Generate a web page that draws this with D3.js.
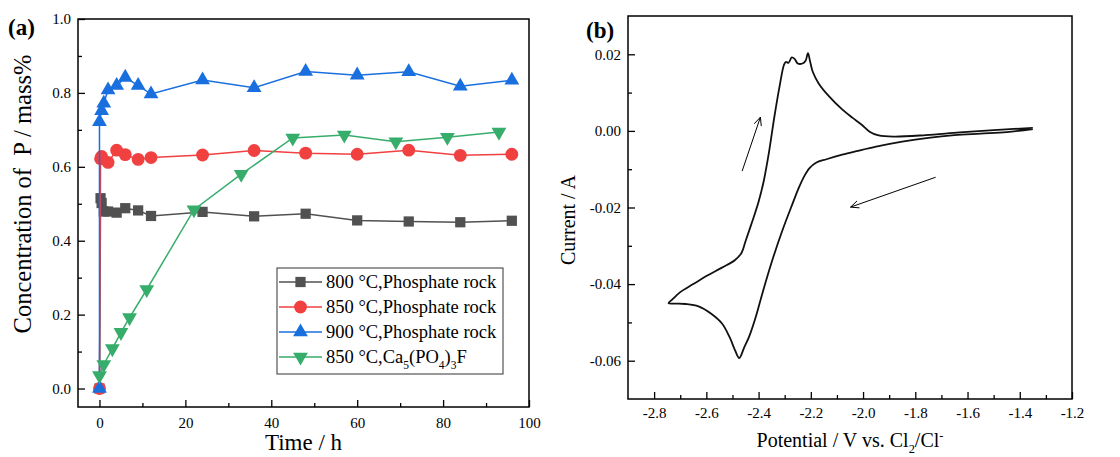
<!DOCTYPE html>
<html>
<head>
<meta charset="utf-8">
<script src="https://cdn.jsdelivr.net/npm/d3@7"></script>
<style>
  body { margin: 0; background: #fff; }
  svg { display: block; font-family: 'Liberation Serif', 'Times New Roman', serif; }
  svg text { font-family: 'Liberation Serif', 'Times New Roman', serif; }
</style>
</head>
<body>
<svg id="fig" width="1120" height="457"></svg>
<script>
// ---- panel (a) data: P concentration vs time ----
const time800 = [0, 0.25, 0.5, 1, 2, 4, 6, 9, 12, 24, 36, 48, 60, 72, 84, 96]
const conc800 = [0, 0.515, 0.502, 0.479, 0.479, 0.476, 0.488, 0.482, 0.467, 0.478, 0.466, 0.473, 0.455, 0.452, 0.450, 0.454]
const time850 = [0, 0.25, 0.5, 2, 4, 6, 9, 12, 24, 36, 48, 60, 72, 84, 96]
const conc850 = [0, 0.622, 0.628, 0.612, 0.645, 0.633, 0.620, 0.625, 0.632, 0.644, 0.637, 0.634, 0.645, 0.631, 0.634]
const time900 = [0, 0, 0.5, 1, 2, 4, 6, 9, 12, 24, 36, 48, 60, 72, 84, 96]
const conc900 = [0, 0.722, 0.752, 0.772, 0.808, 0.820, 0.842, 0.820, 0.797, 0.835, 0.814, 0.858, 0.848, 0.857, 0.818, 0.834]
const timeFap = [0, 1, 3, 5, 7, 11, 22, 33, 45, 57, 69, 81, 93]
const concFap = [0.035, 0.065, 0.108, 0.152, 0.192, 0.268, 0.484, 0.580, 0.678, 0.686, 0.668, 0.680, 0.694]

const seriesNames = ['800 °C,Phosphate rock', '850 °C,Phosphate rock', '900 °C,Phosphate rock', '850 °C,Ca_5(PO_4)_3F']
const seriesColors = ['#515151', '#F14040', '#1A6FDF', '#37AD6B']

const xTicksA = [0, 20, 40, 60, 80, 100]
const xMinorA = [10, 30, 50, 70, 90]
const yTicksA = [0, 0.2, 0.4, 0.6, 0.8, 1.0]
const yMinorA = [0.1, 0.3, 0.5, 0.7, 0.9]

// ---- panel (b) data: cyclic voltammogram, traced along the loop ----
const cvPotential = [-1.35, -1.45, -1.55, -1.65, -1.75, -1.85, -1.95, -2.02, -2.08, -2.14, -2.18, -2.205,
  -2.225, -2.245, -2.27, -2.31, -2.35, -2.385, -2.41, -2.435, -2.455, -2.474, -2.49, -2.51, -2.54,
  -2.58, -2.63, -2.68, -2.72, -2.745, -2.73, -2.70, -2.65, -2.60, -2.54, -2.49, -2.465, -2.45, -2.425,
  -2.40, -2.38, -2.36, -2.34, -2.32, -2.303, -2.296, -2.285, -2.273, -2.262, -2.25, -2.232, -2.22,
  -2.211, -2.203, -2.193, -2.17, -2.13, -2.08, -2.04, -2.005, -1.975, -1.94, -1.88, -1.76, -1.63,
  -1.50, -1.35]
const cvCurrent = [0.0005, -0.0003, -0.0007, -0.0011, -0.0018, -0.0028, -0.0041, -0.0052, -0.0062, -0.0074,
  -0.0083, -0.0097, -0.0118, -0.0147, -0.0190, -0.0262, -0.0343, -0.0423, -0.0484, -0.0535, -0.0565,
  -0.0593, -0.0573, -0.0540, -0.0503, -0.0478, -0.0458, -0.0452, -0.0451, -0.0450, -0.0440, -0.0421,
  -0.0400, -0.0379, -0.0357, -0.0337, -0.0318, -0.0288, -0.0238, -0.0185, -0.0130, -0.0055, 0.0035,
  0.0115, 0.0172, 0.0180, 0.0178, 0.0192, 0.0188, 0.0176, 0.0176, 0.0183, 0.0203, 0.0182, 0.0155,
  0.0124, 0.0090, 0.0056, 0.0034, 0.0016, -0.0002, -0.0012, -0.0015, -0.0011, -0.0004, 0.0002, 0.0008]
// scan direction arrows: [V0, I0, V1, I1]
const arrowUp = [-2.463, -0.0105, -2.393, 0.0036]
const arrowDown = [-1.722, -0.0121, -2.048, -0.0199]

const xTicksB = [-2.8, -2.6, -2.4, -2.2, -2.0, -1.8, -1.6, -1.4, -1.2]
const xMinorB = [-2.7, -2.5, -2.3, -2.1, -1.9, -1.7, -1.5, -1.3]
const yTicksB = [-0.06, -0.04, -0.02, 0.00, 0.02]
const yMinorB = [-0.05, -0.03, -0.01, 0.01]

const serif = "'Liberation Serif', 'Times New Roman', serif"
const svg = d3.select('#fig')

// subscripts / superscripts written as _x and ^x
function richText(sel, str, size) {
  const parts = str.match(/[_^][^_^]|[^_^]+/g)
  let shift = 0
  parts.forEach(p => {
    if (p[0] === '_' || p[0] === '^') {
      const d = p[0] === '_' ? 0.3 * size : -0.38 * size
      sel.append('tspan').attr('dy', d - shift).style('font-size', size * 0.62 + 'px').text(p.slice(1))
      shift = d
    } else {
      sel.append('tspan').attr('dy', -shift).text(p)
      shift = 0
    }
  })
}

function frame(g, x, y) {
  g.append('rect')
    .attr('x', x.range()[0]).attr('y', y.range()[1])
    .attr('width', x.range()[1] - x.range()[0])
    .attr('height', y.range()[0] - y.range()[1])
    .attr('fill', 'none').attr('stroke', '#000').attr('stroke-width', 1.5)
}

function axes(g, x, y, opt) {
  const b = y.range()[0]
  const l = x.range()[0]
  const clean = a => {
    a.attr('font-family', serif).attr('font-size', 15)
    a.select('.domain').remove()
    a.selectAll('text').style('font-family', serif).style('font-size', '15px').attr('fill', '#000')
  }
  g.append('g').attr('transform', `translate(0,${b})`)
    .call(d3.axisBottom(x).tickValues(opt.xt).tickSize(-7).tickPadding(opt.xpad).tickFormat(opt.xf))
    .call(clean)
  g.append('g').attr('transform', `translate(0,${b})`)
    .call(d3.axisBottom(x).tickValues(opt.xm).tickSize(-4).tickFormat(''))
    .call(clean)
  g.append('g').attr('transform', `translate(${l},0)`)
    .call(d3.axisLeft(y).tickValues(opt.yt).tickSize(-7).tickPadding(7).tickFormat(opt.yf))
    .call(clean)
  g.append('g').attr('transform', `translate(${l},0)`)
    .call(d3.axisLeft(y).tickValues(opt.ym).tickSize(-4).tickFormat(''))
    .call(clean)
  g.selectAll('.tick line').attr('stroke', '#000').attr('stroke-width', 1.3)
}

// ================= panel (a) =================
const gA = svg.append('g')
const xA = d3.scaleLinear().domain([-5, 100]).range([78, 529])
const yA = d3.scaleLinear().domain([-0.05, 1.0]).range([407, 19])

axes(gA, xA, yA, {
  xt: xTicksA, xm: xMinorA, yt: yTicksA, ym: yMinorA,
  xf: d => String(d), yf: d => d.toFixed(1), xpad: 10.5
})

const seriesA = [
  { t: time800, c: conc800, sym: d3.symbolSquare, size: 105, rot: 0 },
  { t: time850, c: conc850, sym: d3.symbolCircle, size: 130, rot: 0 },
  { t: time900, c: conc900, sym: d3.symbolTriangle, size: 95, rot: 0 },
  { t: timeFap, c: concFap, sym: d3.symbolTriangle, size: 95, rot: 180 }
]

const lineA = d3.line().x(d => xA(d[0])).y(d => yA(d[1]))

seriesA.forEach((s, i) => {
  const pts = s.t.map((t, j) => [t, s.c[j]])
  gA.append('path').attr('d', lineA(pts))
    .attr('fill', 'none').attr('stroke', seriesColors[i]).attr('stroke-width', 1.5)
  gA.append('g').selectAll('path').data(pts).join('path')
    .attr('d', d3.symbol().type(s.sym).size(s.size))
    .attr('transform', d => `translate(${xA(d[0])},${yA(d[1])}) rotate(${s.rot})`)
    .attr('fill', seriesColors[i])
})

frame(gA, xA, yA)

// legend
const leg = gA.append('g').attr('transform', 'translate(277,268)')
leg.append('rect').attr('width', 226).attr('height', 106)
  .attr('fill', '#fff').attr('stroke', '#333').attr('stroke-width', 1)
seriesNames.forEach((name, i) => {
  const yy = 14 + i * 25
  const s = seriesA[i]
  leg.append('line').attr('x1', 2).attr('x2', 45).attr('y1', yy).attr('y2', yy)
    .attr('stroke', seriesColors[i]).attr('stroke-width', 1.5)
  leg.append('path').attr('d', d3.symbol().type(s.sym).size(s.size))
    .attr('transform', `translate(23.5,${yy}) rotate(${s.rot})`)
    .attr('fill', seriesColors[i])
  const tx = leg.append('text').attr('x', 49).attr('y', yy + 6).style('font-size', '18.5px')
  richText(tx, name, 18.5)
})

gA.append('text').attr('x', xA(47.5)).attr('y', 450).attr('text-anchor', 'middle')
  .style('font-size', '23px').text('Time / h')
gA.append('text').attr('transform', 'translate(31,194) rotate(-90)').attr('text-anchor', 'middle')
  .attr('xml:space', 'preserve')
  .style('font-size', '24.5px').text('Concentration of  P / mass%')
gA.append('text').attr('x', 8).attr('y', 35).style('font-size', '23px').style('font-weight', 'bold').text('(a)')

// ================= panel (b) =================
const gB = svg.append('g')
const xB = d3.scaleLinear().domain([-2.9, -1.2]).range([628, 1072])
const yB = d3.scaleLinear().domain([-0.07, 0.03]).range([399, 16])

axes(gB, xB, yB, {
  xt: xTicksB, xm: xMinorB, yt: yTicksB, ym: yMinorB,
  xf: d => d.toFixed(1), yf: d => d.toFixed(2), xpad: 8.5
})

const cvPts = cvPotential.map((v, i) => [v, cvCurrent[i]])
gB.append('path')
  .attr('d', d3.line().x(d => xB(d[0])).y(d => yB(d[1])).curve(d3.curveCatmullRom.alpha(0.5))(cvPts))
  .attr('fill', 'none').attr('stroke', '#111').attr('stroke-width', 1.8).attr('stroke-linejoin', 'round')

function arrow(a) {
  const x0 = xB(a[0]), y0 = yB(a[1]), x1 = xB(a[2]), y1 = yB(a[3])
  const ang = Math.atan2(y1 - y0, x1 - x0)
  const h = 9, spread = 0.42
  gB.append('line').attr('x1', x0).attr('y1', y0).attr('x2', x1).attr('y2', y1)
    .attr('stroke', '#000').attr('stroke-width', 1)
  gB.append('path')
    .attr('d', `M${x1 - h * Math.cos(ang - spread)},${y1 - h * Math.sin(ang - spread)}L${x1},${y1}L${x1 - h * Math.cos(ang + spread)},${y1 - h * Math.sin(ang + spread)}`)
    .attr('fill', 'none').attr('stroke', '#000').attr('stroke-width', 1)
}
arrow(arrowUp)
arrow(arrowDown)

frame(gB, xB, yB)

const tB = gB.append('text').attr('x', xB(-2.05)).attr('y', 447).attr('text-anchor', 'middle').style('font-size', '20px')
richText(tB, 'Potential / V vs. Cl_2/Cl^-', 20)
gB.append('text').attr('transform', 'translate(575,220) rotate(-90)').attr('text-anchor', 'middle')
  .style('font-size', '20px').text('Current / A')
gB.append('text').attr('x', 586).attr('y', 38).style('font-size', '23px').style('font-weight', 'bold').text('(b)')
</script>
</body>
</html>
